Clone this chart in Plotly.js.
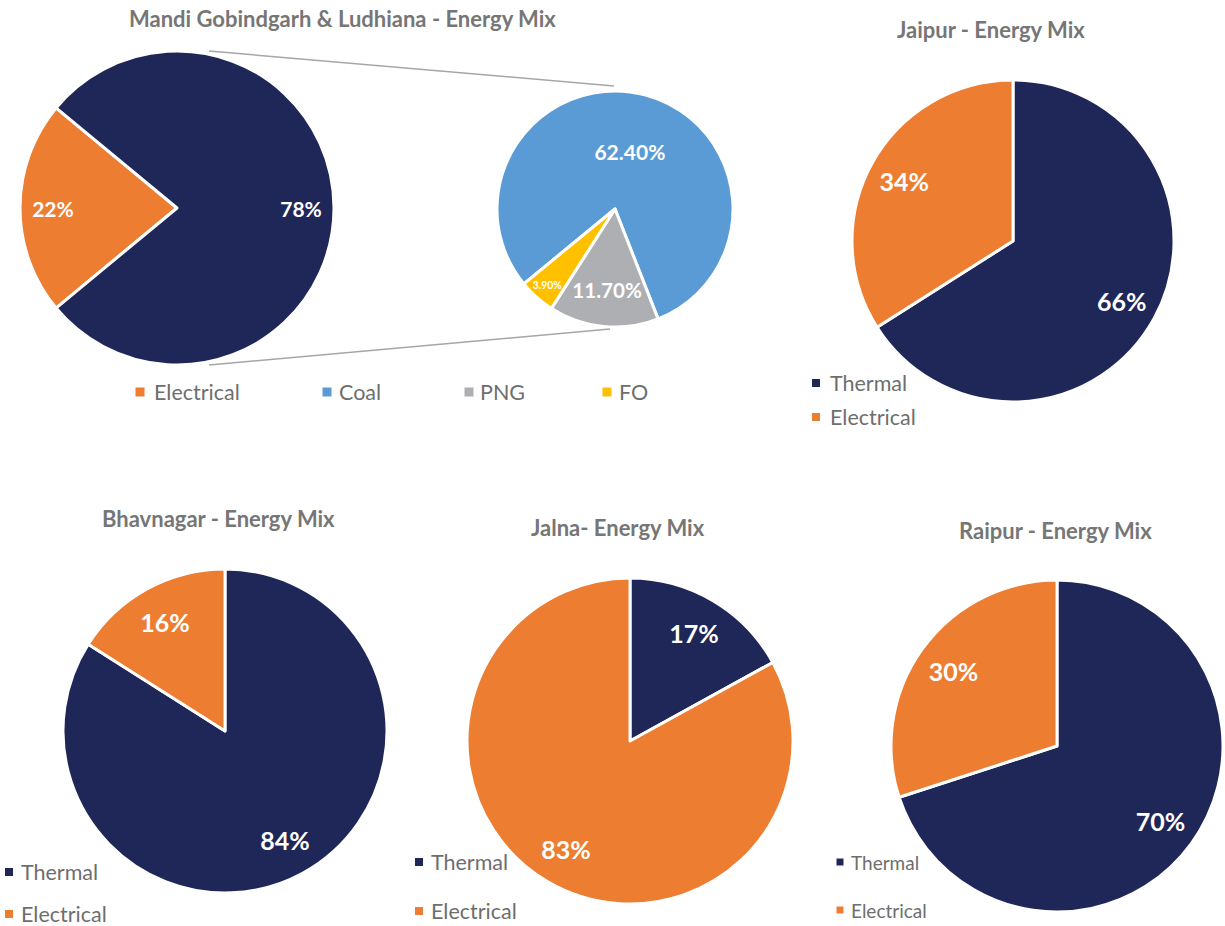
<!DOCTYPE html>
<html><head><meta charset="utf-8">
<script src="https://cdn.plot.ly/plotly-3.0.1.min.js"></script>
<style>html,body{margin:0;padding:0;background:#fff}</style>
</head><body><div id="chart" style="width:1225px;height:926px"></div>
<script>
// ---------- data ----------
const mandiLabels = ['Electrical', 'Thermal'];
const mandiValues = [22, 78];
const thermalSplitLabels = ['Coal', 'PNG', 'FO'];
const thermalSplitValues = [62.4, 11.7, 3.9];
const siteLabels = ['Thermal', 'Electrical'];
const jaipurValues = [66, 34];
const bhavnagarValues = [84, 16];
const jalnaValues = [17, 83];
const raipurValues = [70, 30];
const chartTitles = ['Mandi Gobindgarh & Ludhiana - Energy Mix', 'Jaipur - Energy Mix',
  'Bhavnagar - Energy Mix', 'Jalna- Energy Mix', 'Raipur - Energy Mix'];
const mandiLegendLabels = ['Electrical', 'Coal', 'PNG', 'FO'];

// ---------- styling / layout helpers ----------
const W = 1225, H = 926;
const NAVY = '#1F2759', ORANGE = '#ED7D31', BLUE = '#5B9BD5', GRAY = '#ADAFB2', YELLOW = '#FFC000';
const TITLE_GRAY = '#767676', LEGEND_GRAY = '#6E6E6E';
const FONT = 'Lato, "Open Sans", sans-serif';

function dom(cx, cy, r) {
  return {x: [(cx - r) / W, (cx + r) / W], y: [1 - (cy + r) / H, 1 - (cy - r) / H]};
}
function pieTraces(labels, values, colors, geom, rotation, fontSize, tmpl, labelHole) {
  const base = {type: 'pie', labels: labels, values: values, sort: false, direction: 'clockwise',
    rotation: rotation, domain: dom(geom[0], geom[1], geom[2]), showlegend: false};
  const slices = Object.assign({}, base, {
    marker: {colors: colors, line: {color: '#ffffff', width: 3}},
    textinfo: 'none', hoverinfo: 'label+value'});
  const texts = Object.assign({}, base, {
    hole: labelHole,
    marker: {colors: labels.map(() => 'rgba(0,0,0,0)'), line: {width: 0}},
    texttemplate: tmpl, textposition: 'inside', insidetextorientation: 'horizontal',
    textfont: {family: FONT, size: fontSize, color: '#ffffff', weight: 'bold'},
    hoverinfo: 'skip'});
  return [slices, texts];
}

const siteColors = [NAVY, ORANGE];
let data = [];
data = data.concat(pieTraces(mandiLabels, mandiValues, [ORANGE, NAVY], [177, 208, 157], 230.4, 21, '%{value}%', 0.58));
data.push({
  type: 'pie', labels: thermalSplitLabels, values: thermalSplitValues, sort: false, direction: 'clockwise',
  rotation: 230.6, domain: dom(615, 209, 118), showlegend: false,
  marker: {colors: [BLUE, GRAY, YELLOW], line: {color: '#ffffff', width: 3}},
  texttemplate: '%{value:.2f}%', textposition: 'inside', insidetextorientation: 'horizontal',
  textfont: {family: FONT, size: [21, 21, 14], color: '#ffffff', weight: 'bold'}
});
data = data.concat(pieTraces(siteLabels, jaipurValues, siteColors, [1013, 241, 161], 0, 25, '%{value}%', 0.54));
data = data.concat(pieTraces(siteLabels, bhavnagarValues, siteColors, [225, 731, 162], 0, 25, '%{value}%', 0.54));
data = data.concat(pieTraces(siteLabels, jalnaValues, siteColors, [630, 741, 163], 0, 25, '%{value}%', 0.54));
data = data.concat(pieTraces(siteLabels, raipurValues, siteColors, [1057, 746, 166], 0, 25, '%{value}%', 0.54));

// ---------- annotations: titles ----------
const titlePos = [[342, 18], [991, 29], [218, 518], [618, 527], [1055, 530]];
const annotations = chartTitles.map((t, i) => ({
  text: t, x: titlePos[i][0] / W, y: 1 - titlePos[i][1] / H, xref: 'paper', yref: 'paper',
  xanchor: 'center', yanchor: 'middle', showarrow: false,
  font: {family: FONT, size: 22, color: TITLE_GRAY, weight: 'bold'}
}));

// ---------- legends (marker squares + text) ----------
const shapes = [];
function legend(labels, colors, pos, markerSize, fontSize) {
  labels.forEach((lab, i) => {
    const [mx, my, tx] = pos[i];
    shapes.push({type: 'rect', xref: 'paper', yref: 'paper',
      x0: (mx - markerSize / 2) / W, x1: (mx + markerSize / 2) / W,
      y0: 1 - (my + markerSize / 2) / H, y1: 1 - (my - markerSize / 2) / H,
      fillcolor: colors[i], line: {width: 0}});
    annotations.push({text: lab, x: (tx - 2) / W, y: 1 - my / H, xref: 'paper', yref: 'paper',
      xanchor: 'left', yanchor: 'middle', showarrow: false,
      font: {family: FONT, size: fontSize, color: LEGEND_GRAY}});
  });
}
legend(mandiLegendLabels, [ORANGE, BLUE, GRAY, YELLOW],
  [[140, 392, 154], [327, 392, 339], [469, 392, 480], [607, 392, 619]], 9, 21.5);
legend(siteLabels, siteColors, [[816, 383, 830], [816, 417, 830]], 8, 21.5);
legend(siteLabels, siteColors, [[9, 872, 21], [9, 914, 21]], 8, 21.5);
legend(siteLabels, siteColors, [[419, 862, 431], [419, 911, 431]], 8, 21.5);
legend(siteLabels, siteColors, [[840, 862, 851], [840, 910, 851]], 7, 19);

// ---------- connector lines (pie of pie) ----------
shapes.push({type: 'line', xref: 'paper', yref: 'paper', x0: 209 / W, y0: 1 - 51 / H, x1: 614 / W, y1: 1 - 86 / H,
  line: {color: '#A6A6A6', width: 1.5}});
shapes.push({type: 'line', xref: 'paper', yref: 'paper', x0: 209 / W, y0: 1 - 365 / H, x1: 610 / W, y1: 1 - 329 / H,
  line: {color: '#A6A6A6', width: 1.5}});

const layout = {
  width: W, height: H, margin: {l: 0, r: 0, t: 0, b: 0},
  paper_bgcolor: '#ffffff', plot_bgcolor: '#ffffff',
  showlegend: false, annotations: annotations, shapes: shapes,
  font: {family: FONT}
};
Plotly.newPlot('chart', data, layout, {displayModeBar: false, staticPlot: true});
</script>
</body></html>
